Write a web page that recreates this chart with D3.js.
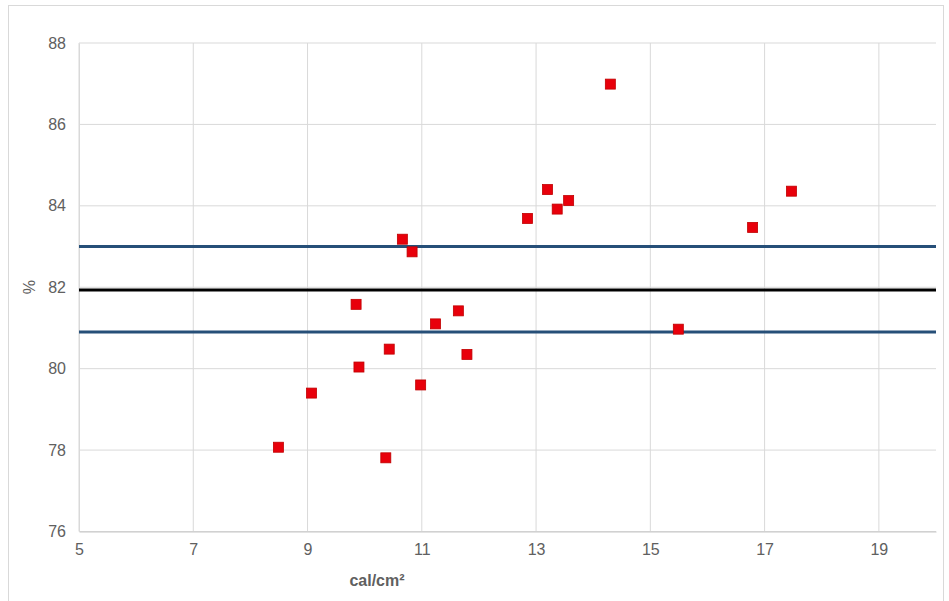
<!DOCTYPE html>
<html><head><meta charset="utf-8">
<script src="https://cdn.jsdelivr.net/npm/d3@7"></script>
<style>body{margin:0;background:#fff;} svg{display:block;}</style>
</head><body>
<script>
const xValues = [8.49, 9.07, 9.85, 9.90, 10.43, 10.37, 10.66, 10.83, 10.98, 11.24, 11.64, 11.79, 12.85, 13.20, 13.37, 13.57, 14.30, 15.49, 16.79, 17.47];
const yValues = [78.07, 79.40, 81.58, 80.04, 80.48, 77.81, 83.18, 82.87, 79.60, 81.10, 81.42, 80.35, 83.69, 84.40, 83.92, 84.13, 86.99, 80.97, 83.47, 84.36];
const xTicks = [5, 7, 9, 11, 13, 15, 17, 19];
const yTicks = [76, 78, 80, 82, 84, 86, 88];
const refLines = [{value: 83.0, kind: "limit"}, {value: 81.93, kind: "mean"}, {value: 80.90, kind: "limit"}];
const xTitle = "cal/cm²";
const yTitle = "%";

const W = 949, H = 601;
const svg = d3.select("body").append("svg").attr("width", W).attr("height", H);
svg.append("rect").attr("x", 8.5).attr("y", 5.5).attr("width", 935).attr("height", 600)
  .attr("fill", "#fff").attr("stroke", "#d9d9d9");

const x = d3.scaleLinear().domain([5, 20]).range([79, 936]);
const y = d3.scaleLinear().domain([76, 88]).range([531.5, 43]);
const font = "Liberation Sans, Arial, sans-serif";
const textColor = "#606060";

// gridlines
svg.append("g").selectAll("line").data(xTicks).join("line")
  .attr("x1", d => x(d)).attr("x2", d => x(d)).attr("y1", y(88)).attr("y2", y(76))
  .attr("stroke", "#d9d9d9").attr("stroke-width", 1);
svg.append("g").selectAll("line").data(yTicks).join("line")
  .attr("x1", x(5)).attr("x2", x(20)).attr("y1", d => y(d)).attr("y2", d => y(d))
  .attr("stroke", "#d9d9d9").attr("stroke-width", 1);

// axes
const xAxis = svg.append("g").attr("transform", `translate(0,${y(76)})`)
  .call(d3.axisBottom(x).tickValues(xTicks).tickSize(0).tickPadding(12).tickFormat(d3.format("d")));
xAxis.select(".domain").attr("stroke", "#c8c8c8");
xAxis.selectAll("text").attr("fill", textColor).style("font-family", font).style("font-size", "16px");

const yAxis = svg.append("g").attr("transform", `translate(${x(5)},0)`)
  .call(d3.axisLeft(y).tickValues(yTicks).tickSize(0).tickPadding(13).tickFormat(d3.format("d")));
yAxis.select(".domain").attr("stroke", "#d9d9d9");
yAxis.selectAll("text").attr("fill", textColor).style("font-family", font).style("font-size", "16px");

// reference lines
svg.append("g").selectAll("line").data(refLines).join("line")
  .attr("x1", x(5)).attr("x2", x(20))
  .attr("y1", d => y(d.value)).attr("y2", d => y(d.value))
  .attr("stroke", d => d.kind === "mean" ? "#000" : "#264f78")
  .attr("stroke-width", 3);

// points
const pts = xValues.map((v, i) => ({x: v, y: yValues[i]}));
svg.append("g").selectAll("rect").data(pts).join("rect")
  .attr("x", d => x(d.x) - 5).attr("y", d => y(d.y) - 5)
  .attr("width", 10).attr("height", 10)
  .attr("fill", "#e8000b").attr("stroke", "#c00000").attr("stroke-width", 0.8);

// titles
svg.append("text").attr("x", 377).attr("y", 586).attr("text-anchor", "middle")
  .attr("fill", textColor).style("font-family", font).style("font-size", "16px").style("font-weight", "bold")
  .text(xTitle);
svg.append("text").attr("transform", `translate(35,${y(82)}) rotate(-90)`).attr("text-anchor", "middle")
  .attr("fill", textColor).style("font-family", font).style("font-size", "16px")
  .text(yTitle);
</script>
</body></html>
